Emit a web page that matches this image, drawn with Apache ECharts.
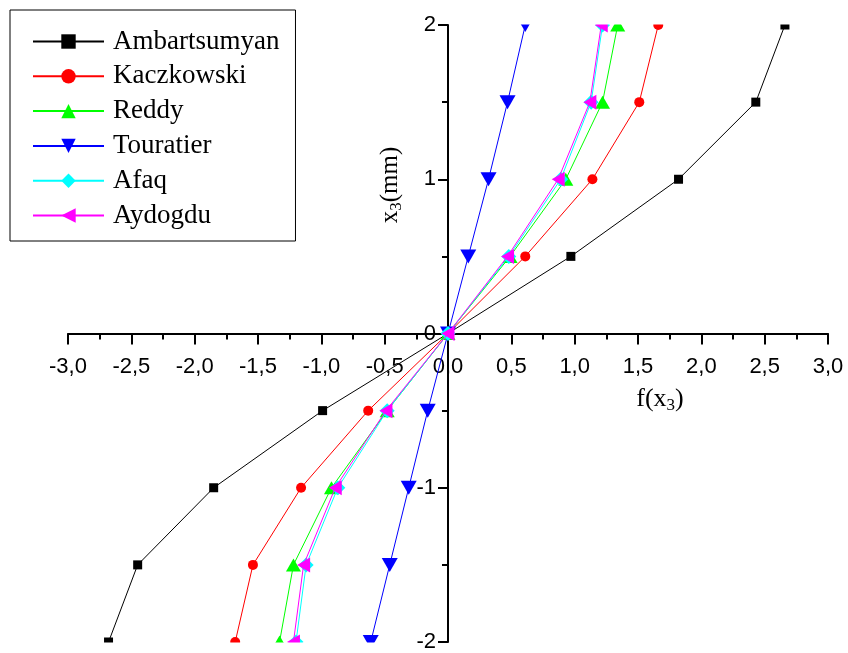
<!DOCTYPE html>
<html>
<head>
<meta charset="utf-8">
<script src="https://cdn.jsdelivr.net/npm/echarts@6/dist/echarts.min.js"></script>
<style>html,body{margin:0;padding:0;background:#fff;}#c{width:848px;height:653px;}</style>
</head>
<body>
<div id="c"></div>
<script>
// x3 positions (mm) shared by all series
const x3Values = [-2, -1.5, -1, -0.5, 0, 0.5, 1, 1.5, 2];
// f(x3) for each theory
const ambartsumyan = [-2.68, -2.45, -1.85, -0.99, 0, 0.97, 1.82, 2.43, 2.66];
const kaczkowski   = [-1.68, -1.54, -1.16, -0.63, 0, 0.61, 1.14, 1.51, 1.66];
const reddy        = [-1.33, -1.22, -0.92, -0.48, 0, 0.49, 0.93, 1.22, 1.34];
const touratier    = [-0.61, -0.46, -0.31, -0.16, 0, 0.16, 0.32, 0.47, 0.61];
const afaq         = [-1.20, -1.12, -0.87, -0.48, 0, 0.48, 0.89, 1.13, 1.22];
const aydogdu      = [-1.22, -1.14, -0.89, -0.49, 0, 0.47, 0.87, 1.12, 1.21];
const seriesNames  = ['Ambartsumyan', 'Kaczkowski', 'Reddy', 'Touratier', 'Afaq', 'Aydogdu'];

const chart = echarts.init(document.getElementById('c'), null, {renderer: 'canvas'});

function pairs(vals) { return vals.map((v, i) => [v, x3Values[i]]); }

const styles = [
  {color: '#000000', symbol: 'rect', size: 9, rot: 0},
  {color: '#ff0000', symbol: 'circle', size: 10, rot: 0},
  {color: '#00ff00', symbol: 'triangle', size: [15, 13], rot: 0},
  {color: '#0000ff', symbol: 'triangle', size: [16, 14], rot: 180},
  {color: '#00ffff', symbol: 'diamond', size: 15, rot: 0},
  {color: '#ff00ff', symbol: 'triangle', size: [15, 13], rot: 90}
];
const allData = [ambartsumyan, kaczkowski, reddy, touratier, afaq, aydogdu];

const series = allData.map((d, i) => ({
  name: seriesNames[i],
  type: 'line',
  data: pairs(d),
  symbol: styles[i].symbol,
  symbolSize: styles[i].size,
  symbolRotate: styles[i].rot,
  showAllSymbol: true,
  clip: false,
  z: 2 + i,
  itemStyle: {color: styles[i].color},
  lineStyle: {color: styles[i].color, width: 1}
}));

const tickFont = {fontFamily: 'Liberation Sans', fontSize: 22, color: '#000'};

chart.setOption({
  animation: false,
  backgroundColor: '#ffffff',
  grid: {left: 68, right: 20, top: 25, bottom: 11, containLabel: false, outerBoundsMode: 'none'},
  legend: {
    orient: 'vertical',
    left: 10, top: 10,
    padding: [18, 16, 12, 22],
    itemGap: 7.8,
    itemWidth: 71,
    itemHeight: 18,
    borderColor: '#000', borderWidth: 1,
    backgroundColor: '#fff',
    z: 20,
    textStyle: {fontFamily: 'Liberation Serif', fontSize: 27, lineHeight: 27, color: '#000', padding: [0, 0, 0, 4]},
    data: seriesNames
  },
  xAxis: {
    type: 'value', min: -3, max: 3, interval: 0.5, position: 'bottom',
    axisLine: {onZero: false, lineStyle: {color: '#000', width: 2}},
    axisTick: {show: true, length: 11, lineStyle: {color: '#000', width: 2}},
    minorTick: {show: true, splitNumber: 2, length: 6, lineStyle: {color: '#000', width: 2}},
    splitLine: {show: false},
    axisLabel: Object.assign({margin: 22, hideOverlap: false, formatter: v => v.toFixed(1).replace('.', ',')}, tickFont)
  },
  yAxis: {
    type: 'value', min: -2, max: 2, interval: 1, position: 'left',
    axisLine: {onZero: false, lineStyle: {color: '#000', width: 2}},
    axisTick: {show: true, length: 10, lineStyle: {color: '#000', width: 2}},
    minorTick: {show: true, splitNumber: 2, length: 6, lineStyle: {color: '#000', width: 2}},
    splitLine: {show: false},
    axisLabel: Object.assign({margin: 12, hideOverlap: false, formatter: v => String(Math.round(v))}, tickFont)
  },
  series: series
});

// place axes through the origin (offsets derived from the axes' own scales)
const yTop = chart.convertToPixel({yAxisIndex: 0}, 2);
const yBot = chart.convertToPixel({yAxisIndex: 0}, -2);
const y0 = chart.convertToPixel({yAxisIndex: 0}, 0);
const x0 = chart.convertToPixel({xAxisIndex: 0}, 0);
const xL = chart.convertToPixel({xAxisIndex: 0}, -3);
chart.setOption({
  xAxis: {offset: -(yBot - y0)},
  yAxis: {offset: -(x0 - xL)},
  graphic: [
    {type: 'rect', z: 50, silent: true, shape: {x: x0 + 2, y: 0, width: 848 - x0, height: yTop - 0.5}, style: {fill: '#fff'}},
    {type: 'rect', z: 50, silent: true, shape: {x: 0, y: yBot + 0.5, width: x0 - 46, height: 653 - yBot}, style: {fill: '#fff'}},
    {type: 'text', z: 60, x: 390, y: 185, rotation: Math.PI / 2,
      style: {text: '{m|x}{s|3}{m|(mm)}', align: 'center', verticalAlign: 'middle',
        rich: {m: {fontFamily: 'Liberation Serif', fontSize: 25, fill: '#000', lineHeight: 30},
               s: {fontFamily: 'Liberation Serif', fontSize: 17, fill: '#000', lineHeight: 30, padding: [14, 0, 0, 0]}}}},
    {type: 'text', z: 60, x: 660, y: 399,
      style: {text: '{m|f(x}{s|3}{m|)}', align: 'center', verticalAlign: 'middle',
        rich: {m: {fontFamily: 'Liberation Serif', fontSize: 26, fill: '#000', lineHeight: 30},
               s: {fontFamily: 'Liberation Serif', fontSize: 17, fill: '#000', lineHeight: 30, padding: [14, 0, 0, 0]}}}}
  ]
});
</script>
</body>
</html>
